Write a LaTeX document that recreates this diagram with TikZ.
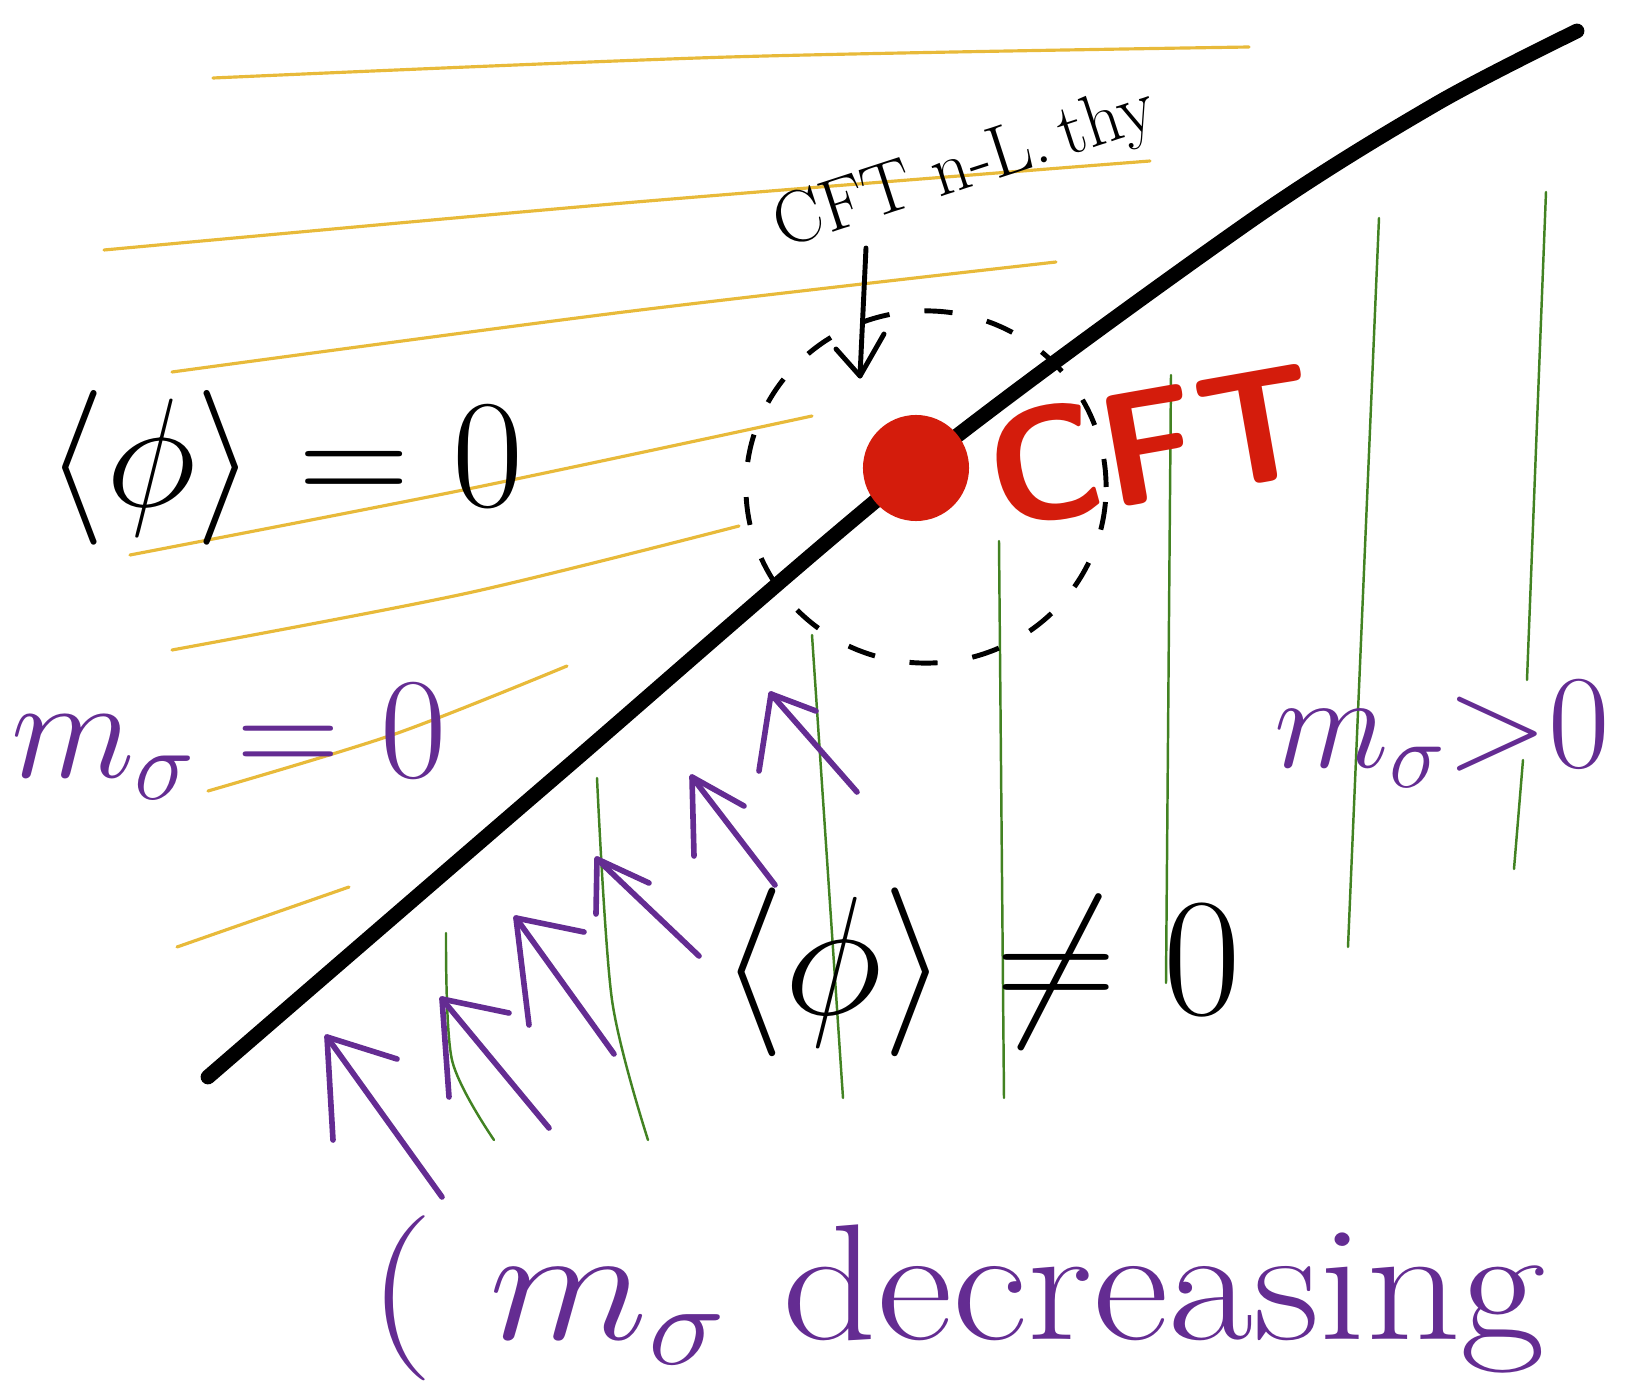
\RequirePackage{fix-cm}
\documentclass[tikz,border=0pt]{standalone}
\usepackage{amsmath}
\usetikzlibrary{positioning}

\definecolor{cftred}{RGB}{212,28,12}
\definecolor{masspurple}{RGB}{100,44,146}
\definecolor{symyellow}{RGB}{232,186,58}
\definecolor{brokengreen}{RGB}{66,130,34}

\tikzset{
  critline/.style={line width=4.2pt, line cap=round, line join=round},
  yellowline/.style={symyellow, line width=0.9pt, line cap=round},
  greenline/.style={brokengreen, line width=0.7pt, line cap=round},
  flowarrow/.style={masspurple, line width=1.6pt, line cap=round, line join=round},
  nbcircle/.style={line width=1.4pt, dash pattern=on 8pt off 10pt},
  bigtext/.style={font=\fontsize{#1}{#1}\selectfont, inner sep=0pt},
}

\begin{document}
\begin{tikzpicture}[x=0.01cm, y=-0.01cm]
\useasboundingbox (0,0) rectangle (1632,1385);

% symmetric phase
\draw[yellowline] plot[smooth] coordinates {(213,78) (729,57) (1249,47)};
\draw[yellowline] plot[smooth] coordinates {(104,250) (624,203) (1150,161)};
\draw[yellowline] plot[smooth] coordinates {(172,372) (624,312) (1056,262)};
\draw[yellowline] plot[smooth] coordinates {(130,555) (468,489) (812,416)};
\draw[yellowline] plot[smooth] coordinates {(172,650) (468,593) (739,526)};
\draw[yellowline] plot[smooth] coordinates {(208,791) (395,734) (567,666)};
\draw[yellowline] (177,947) -- (349,887);

% broken phase
\draw[greenline] plot[smooth] coordinates {(446,933) (452,1060) (494,1140)};
\draw[greenline] plot[smooth] coordinates {(597,778) (612,1000) (648,1140)};
\draw[greenline] (812,635) -- (843,1098);
\draw[greenline] (999,541) -- (1004,1098);
\draw[greenline] (1171,375) -- (1166,983);
\draw[greenline] (1379,218) -- (1348,947);
\draw[greenline] (1546,192) -- (1527,680);
\draw[greenline] (1523,760) -- (1514,869);

% critical line
\draw[critline] plot[smooth] coordinates {(208,1077) (560,773) (916,468)
  (1249,222) (1436,104) (1577,31)};

% CFT point and its neighbourhood
\draw[nbcircle] (926,487) ellipse [x radius=1.8cm, y radius=1.76cm];
\node[circle, fill=cftred, minimum size=1.06cm, inner sep=0pt] (cft) at (916,468) {};
\node[cftred, inner sep=0pt, font=\sffamily\bfseries\fontsize{46}{46}\selectfont, rotate=10] (cftlabel) at (1152,445) {CFT};

\node[bigtext=21, rotate=18] (nltheory) at (965,170) {CFT n-L.\,thy};
\coordinate (nltop) at (866,248);
\coordinate (nltip) at (860,376);
\draw[line width=1.4pt, line cap=round, line join=round] (nltop) -- (nltip);
\draw[line width=1.4pt, line cap=round, line join=round] (836,349) -- (nltip) -- (884,334);

% phases
\node[bigtext=44] (vevzero) at (285,468) {$\langle\phi\rangle = 0$};
\node[masspurple, bigtext=41] (masszero) at (229,742) {$m_\sigma = 0$};
\node[bigtext=48] (vevbroken) at (980,972) {$\langle\phi\rangle \neq 0$};
\node[masspurple, bigtext=38] (massgap) at (1442,734) {$m_\sigma{>}0$};

% flow towards the critical line
\foreach \tx/\ty/\ex/\ey/\lx/\ly/\rx/\ry in {
    327/1037/442/1197/333/1140/397/1059,
    442/999/549/1128/449/1097/509/1013,
    516/918/614/1054/529/1025/584/932,
    597/859/699/956/596/914/649/883,
    692/777/775/885/694/856/744/806,
    771/694/857/792/759/771/816/711}
{
  \draw[flowarrow] (\ex,\ey) -- (\tx,\ty);
  \draw[flowarrow] (\lx,\ly) -- (\tx,\ty) -- (\rx,\ry);
}
\node[masspurple, bigtext=47] (decreasing) at (957,1298) {\scalebox{1.12}[1]{( $m_\sigma$ decreasing}};
\end{tikzpicture}
\end{document}
